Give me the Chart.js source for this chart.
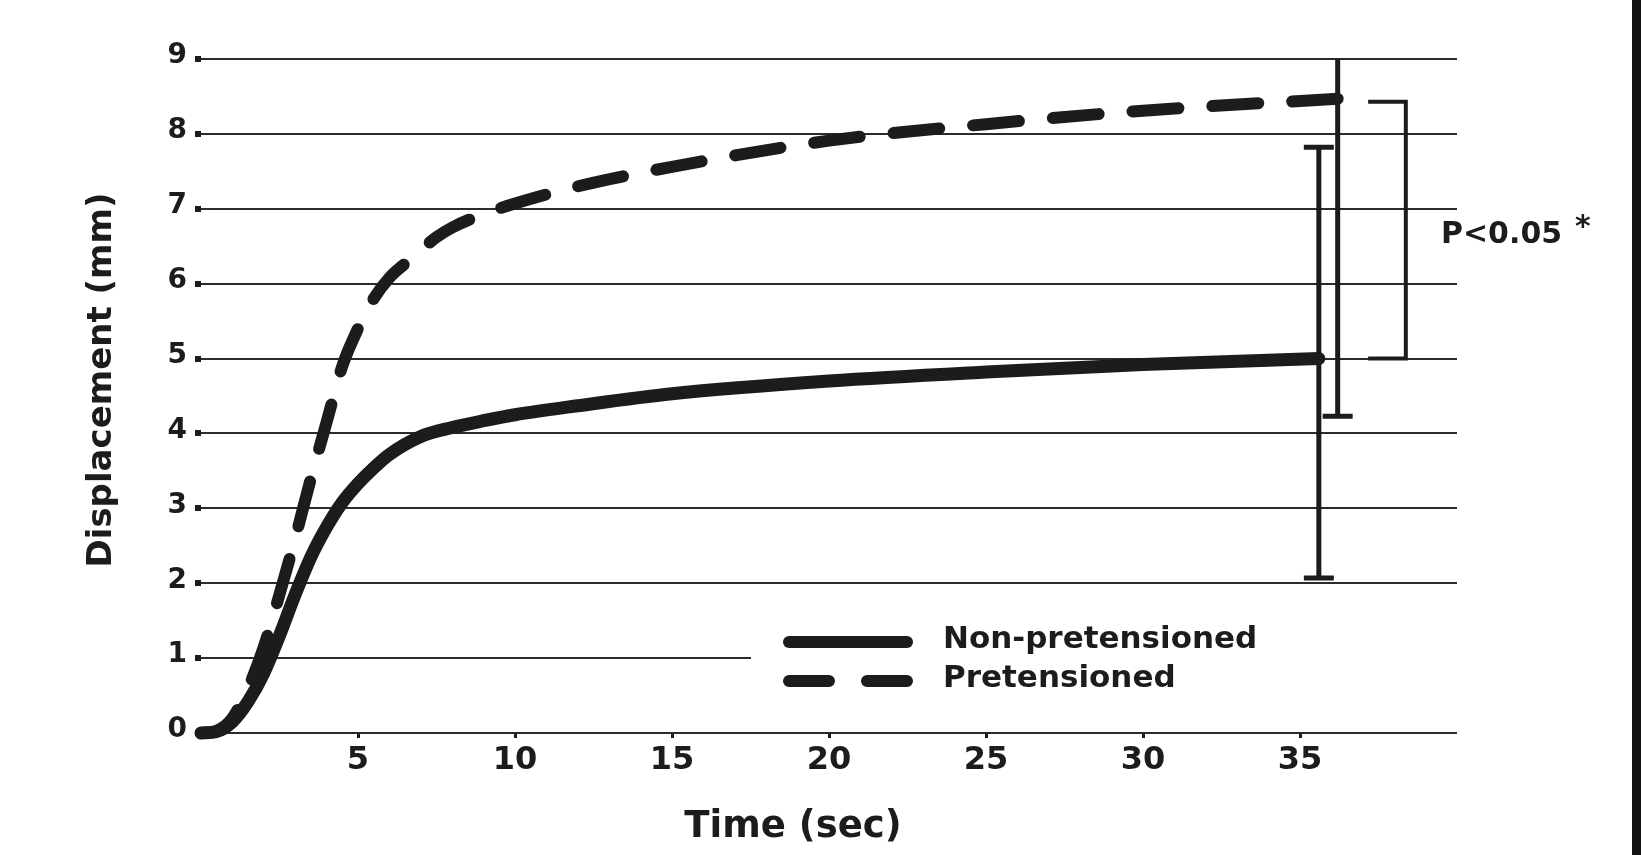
<!DOCTYPE html>
<html>
<head>
<meta charset="utf-8">
<script src="https://cdn.jsdelivr.net/npm/chart.js@4.4.0/dist/chart.umd.min.js"></script>
<style>
html, body { margin:0; padding:0; background:#fff; }
#wrap { position:relative; width:1641px; height:855px; }
#edge { position:absolute; right:0; top:0; width:9px; height:855px; background:#111; }
</style>
</head>
<body>
<div id="wrap"><canvas id="myChart"></canvas><div id="edge"></div></div>
<script>
// values
var seriesLabels = ['Non-pretensioned', 'Pretensioned']
var nonTime = [0, 0.5, 1, 1.5, 2, 2.5, 3, 3.5, 4, 4.5, 5, 5.5, 6, 7, 8, 9, 10, 12, 15, 20, 25, 30, 35.6]
var nonDisp = [0, 0.02, 0.15, 0.42, 0.8, 1.3, 1.85, 2.35, 2.75, 3.08, 3.33, 3.54, 3.72, 3.96, 4.08, 4.17, 4.25, 4.37, 4.53, 4.7, 4.82, 4.92, 5.0]
var preTime = [0, 0.5, 1, 1.5, 2, 2.5, 3, 3.5, 4, 4.5, 5, 5.5, 6, 6.5, 7, 7.5, 8, 9, 10, 12, 15, 20, 25, 30, 36.2]
var preDisp = [0, 0.03, 0.2, 0.6, 1.15, 1.85, 2.6, 3.4, 4.15, 4.9, 5.4, 5.8, 6.08, 6.27, 6.45, 6.62, 6.75, 6.93, 7.07, 7.3, 7.56, 7.91, 8.13, 8.31, 8.47]
var errHigh = [7.82, 12.7]
var errLow = [2.07, 4.23]
var xTicks = [5, 10, 15, 20, 25, 30, 35]
var yTicks = [0, 1, 2, 3, 4, 5, 6, 7, 8, 9]
var sigTop = 8.43
var sigBottom = 5.0
var sigText = 'P<0.05'

var ink = '#1c1c1c'
var fam = '"DejaVu Sans", sans-serif'

function pts(t, v) {
    var out = []
    for (var i = 0; i < t.length; i++) out.push({x: t[i], y: v[i]})
    return out
}

var extras = {
    id: 'extras',
    afterDatasetsDraw: function(chart) {
        var ctx = chart.ctx, xs = chart.scales.x, ys = chart.scales.y, a = chart.chartArea
        ctx.save()
        ctx.beginPath()
        ctx.rect(a.left, a.top, a.right - a.left + 20, a.bottom - a.top + 20)
        ctx.clip()
        ctx.strokeStyle = ink
        ctx.lineCap = 'butt'
        ctx.lineWidth = 5
        chart.data.datasets.forEach(function(ds, i) {
            var last = ds.data[ds.data.length - 1]
            var px = xs.getPixelForValue(last.x)
            var top = ys.getPixelForValue(errHigh[i])
            var bot = ys.getPixelForValue(errLow[i])
            ctx.beginPath()
            ctx.moveTo(px, top); ctx.lineTo(px, bot)
            ctx.moveTo(px - 15, top); ctx.lineTo(px + 15, top)
            ctx.moveTo(px - 15, bot); ctx.lineTo(px + 15, bot)
            ctx.stroke()
        })
        // significance bracket
        var bx = xs.getPixelForValue(38.37), bl = xs.getPixelForValue(37.17)
        var bt = ys.getPixelForValue(sigTop), bb = ys.getPixelForValue(sigBottom)
        ctx.lineWidth = 4
        ctx.lineJoin = 'miter'
        ctx.beginPath()
        ctx.moveTo(bl, bt); ctx.lineTo(bx, bt); ctx.lineTo(bx, bb); ctx.lineTo(bl, bb)
        ctx.stroke()
        ctx.restore()
    },
    afterDraw: function(chart) {
        var ctx = chart.ctx
        ctx.save()
        ctx.fillStyle = ink
        ctx.font = 'bold 30px ' + fam
        ctx.textAlign = 'left'
        ctx.textBaseline = 'alphabetic'
        ctx.fillText(sigText, 1441, 243)
        ctx.fillText('*', 1575, 236)

        // legend
        ctx.fillStyle = '#fff'
        ctx.fillRect(751, 606, 712, 94)
        var rows = [642, 681]
        chart.data.datasets.forEach(function(ds, i) {
            ctx.strokeStyle = ink
            ctx.lineWidth = 12
            ctx.lineCap = 'round'
            ctx.setLineDash(ds.borderDash ? [40, 38] : [])
            ctx.beginPath()
            ctx.moveTo(789, rows[i]); ctx.lineTo(907, rows[i])
            ctx.stroke()
            ctx.setLineDash([])
            ctx.fillStyle = ink
            ctx.font = 'bold 31px ' + fam
            ctx.fillText(ds.label, 943, rows[i] + 6)
        })

        // axis titles
        ctx.font = 'bold 37px ' + fam
        ctx.textAlign = 'center'
        ctx.fillText('Time (sec)', 793, 837)
        ctx.translate(111, 380)
        ctx.rotate(-Math.PI / 2)
        ctx.font = 'bold 34px ' + fam
        ctx.fillText('Displacement (mm)', 0, 0)
        ctx.restore()
    }
}

var myChart = document.getElementById('myChart').getContext('2d')
var chart = new Chart(myChart, {
    type: 'line',
    data: {
        datasets: [
            {
                label: seriesLabels[0],
                data: pts(nonTime, nonDisp),
                borderColor: ink,
                borderWidth: 13,
                borderCapStyle: 'round',
                cubicInterpolationMode: 'monotone',
                pointRadius: 0,
                fill: false,
                clip: 10
            },
            {
                label: seriesLabels[1],
                data: pts(preTime, preDisp),
                borderColor: ink,
                borderWidth: 12,
                borderCapStyle: 'round',
                borderDash: [46, 34],
                cubicInterpolationMode: 'monotone',
                pointRadius: 0,
                fill: false,
                clip: 10
            }
        ]
    },
    plugins: [extras],
    options: {
        responsive: true,
        maintainAspectRatio: false,
        animation: false,
        layout: { padding: { left: 0, top: 59, right: 184, bottom: 0 } },
        plugins: {
            legend: { display: false },
            tooltip: { enabled: false }
        },
        scales: {
            x: {
                type: 'linear',
                min: 0,
                max: 40,
                afterBuildTicks: function(s) { s.ticks = xTicks.map(function(v) { return {value: v} }) },
                afterFit: function(s) { s.height = 122 },
                border: { display: false },
                grid: { drawOnChartArea: false, drawTicks: true, tickLength: 5, tickWidth: 3, tickColor: ink },
                ticks: { color: ink, padding: 3, maxRotation: 0, font: { family: fam, size: 32, weight: 'bold' } }
            },
            y: {
                min: 0,
                max: 9,
                afterBuildTicks: function(s) { s.ticks = yTicks.map(function(v) { return {value: v} }) },
                afterFit: function(s) { s.width = 201 },
                border: { display: false },
                grid: { color: '#2b2b2b', lineWidth: 2, drawTicks: true, tickLength: 6, tickWidth: 6, tickColor: ink },
                ticks: { color: ink, padding: 8, labelOffset: -3, font: { family: fam, size: 28, weight: 'bold' } }
            }
        }
    }
})
</script>
</body>
</html>
